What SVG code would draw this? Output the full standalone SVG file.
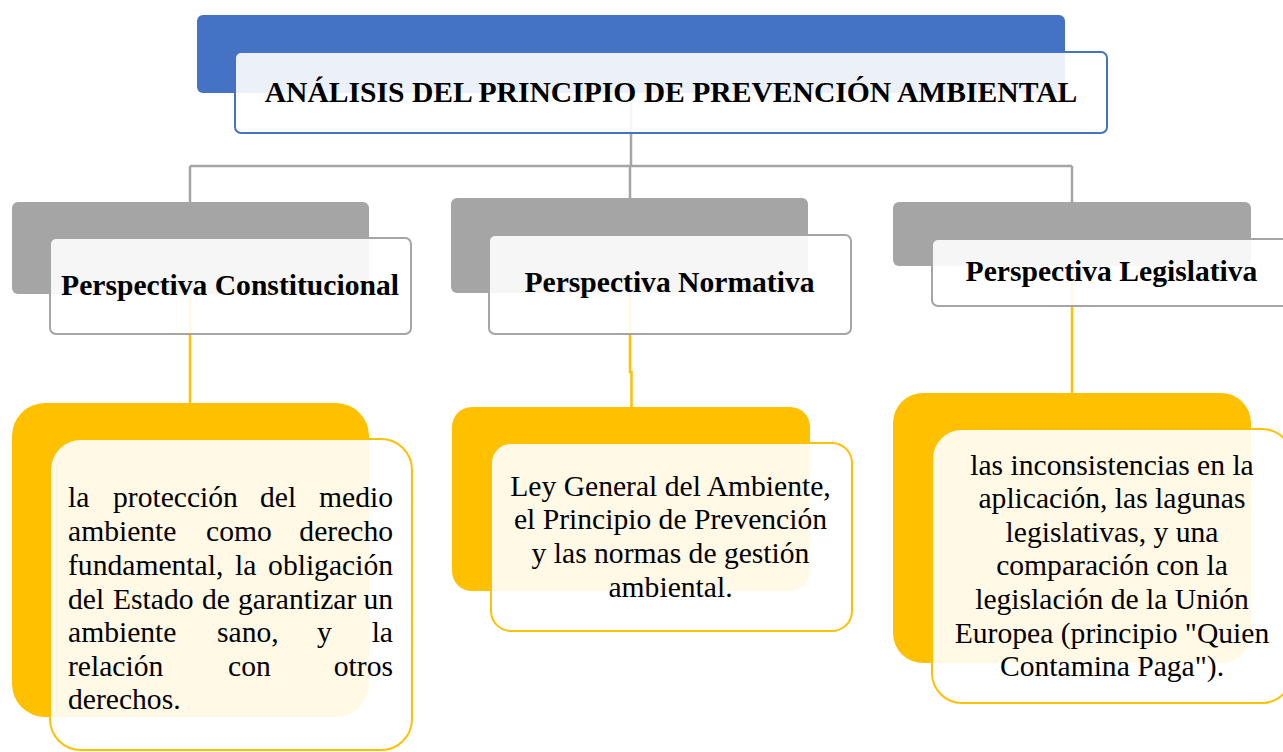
<svg xmlns="http://www.w3.org/2000/svg" width="1283" height="752" viewBox="0 0 1283 752">
<style>
.bg{fill:#fff}
.back-blue{fill:#4472c4}
.back-gray{fill:#a5a5a5}
.back-yel{fill:#ffc000}
.front{fill:#fff;fill-opacity:0.9;stroke-width:2}
.f-blue{stroke:#4472c4}
.f-gray{stroke:#a5a5a5}
.f-yel{stroke:#ffc000}
.hd{font-family:"Liberation Serif","Times New Roman",serif;font-weight:bold;font-size:29.6px;fill:#000;text-anchor:middle}
.bd{font-family:"Liberation Serif","Times New Roman",serif;font-size:29.6px;fill:#000}
.c{text-anchor:middle}
.e{text-anchor:end}
.cg{stroke:#a5a5a5;stroke-width:2.5;fill:none}
.cy{stroke:#ffc000;stroke-width:2.5;fill:none}
</style>
<rect class="bg" x="0" y="0" width="1283" height="752"/>
<g id="connectors">
<path class="cg" d="M631 93 V166 M190 166 H1072 M190 166 V202 M630 166 V198 M1072 166 V202"/>
<path class="cy" d="M190 294 V403"/>
<path class="cy" d="M630 293 V372 H631.5 V407"/>
<path class="cy" d="M1072 266 V393"/>
</g>
<g id="title">
<rect class="back-blue" x="197" y="15" width="868" height="78" rx="6"/>
<rect class="front f-blue" x="235" y="52" width="872" height="81" rx="6"/>
<text class="hd" x="671" y="102">ANÁLISIS DEL PRINCIPIO DE PREVENCIÓN AMBIENTAL</text>
</g>
<g id="p-constitucional">
<rect class="back-gray" x="12" y="202" width="357" height="92" rx="6"/>
<rect class="front f-gray" x="50" y="238" width="361" height="96" rx="6"/>
<text class="hd" x="230" y="295">Perspectiva Constitucional</text>
</g>
<g id="p-normativa">
<rect class="back-gray" x="451" y="198" width="357" height="95" rx="6"/>
<rect class="front f-gray" x="489" y="235" width="362" height="99" rx="6"/>
<text class="hd" x="669.5" y="292">Perspectiva Normativa</text>
</g>
<g id="p-legislativa">
<rect class="back-gray" x="893" y="202" width="358" height="64" rx="6"/>
<rect class="front f-gray" x="932" y="239" width="360" height="67" rx="6"/>
<text class="hd" x="1111.5" y="281">Perspectiva Legislativa</text>
</g>
<g id="d-constitucional">
<rect class="back-yel" x="12" y="403" width="357" height="314" rx="33"/>
<rect class="front f-yel" x="50" y="439" width="362" height="311" rx="31"/>
<g class="bd">
<text x="68" y="507">la</text><text x="113" y="507">protección</text><text x="260" y="507">del</text><text class="e" x="393" y="507">medio</text>
<text x="68" y="541">ambiente</text><text x="206" y="541">como</text><text class="e" x="393" y="541">derecho</text>
<text x="68" y="575">fundamental,</text><text x="235" y="575">la</text><text class="e" x="393" y="575">obligación</text>
<text x="68" y="609">del</text><text x="113" y="609">Estado</text><text x="202" y="609">de</text><text x="238" y="609">garantizar</text><text class="e" x="393" y="609">un</text>
<text x="68" y="642">ambiente</text><text x="217" y="642">sano,</text><text x="317" y="642">y</text><text class="e" x="393" y="642">la</text>
<text x="68" y="676">relación</text><text x="228" y="676">con</text><text class="e" x="393" y="676">otros</text>
<text x="68" y="709">derechos.</text>
</g>
</g>
<g id="d-normativa">
<rect class="back-yel" x="452" y="407" width="358" height="184" rx="20"/>
<rect class="front f-yel" x="491" y="443" width="361" height="188" rx="20"/>
<g class="bd c">
<text x="670.5" y="496">Ley General del Ambiente,</text>
<text x="670.5" y="529">el Principio de Prevención</text>
<text x="670.5" y="563">y las normas de gestión</text>
<text x="670.5" y="597">ambiental.</text>
</g>
</g>
<g id="d-legislativa">
<rect class="back-yel" x="893" y="393" width="358" height="270" rx="30"/>
<rect class="front f-yel" x="932" y="429" width="360" height="274" rx="30"/>
<g class="bd c">
<text x="1112" y="475">las inconsistencias en la</text>
<text x="1112" y="508">aplicación, las lagunas</text>
<text x="1112" y="542">legislativas, y una</text>
<text x="1112" y="575">comparación con la</text>
<text x="1112" y="609">legislación de la Unión</text>
<text x="1112" y="643">Europea (principio "Quien</text>
<text x="1112" y="676">Contamina Paga").</text>
</g>
</g>
</svg>
